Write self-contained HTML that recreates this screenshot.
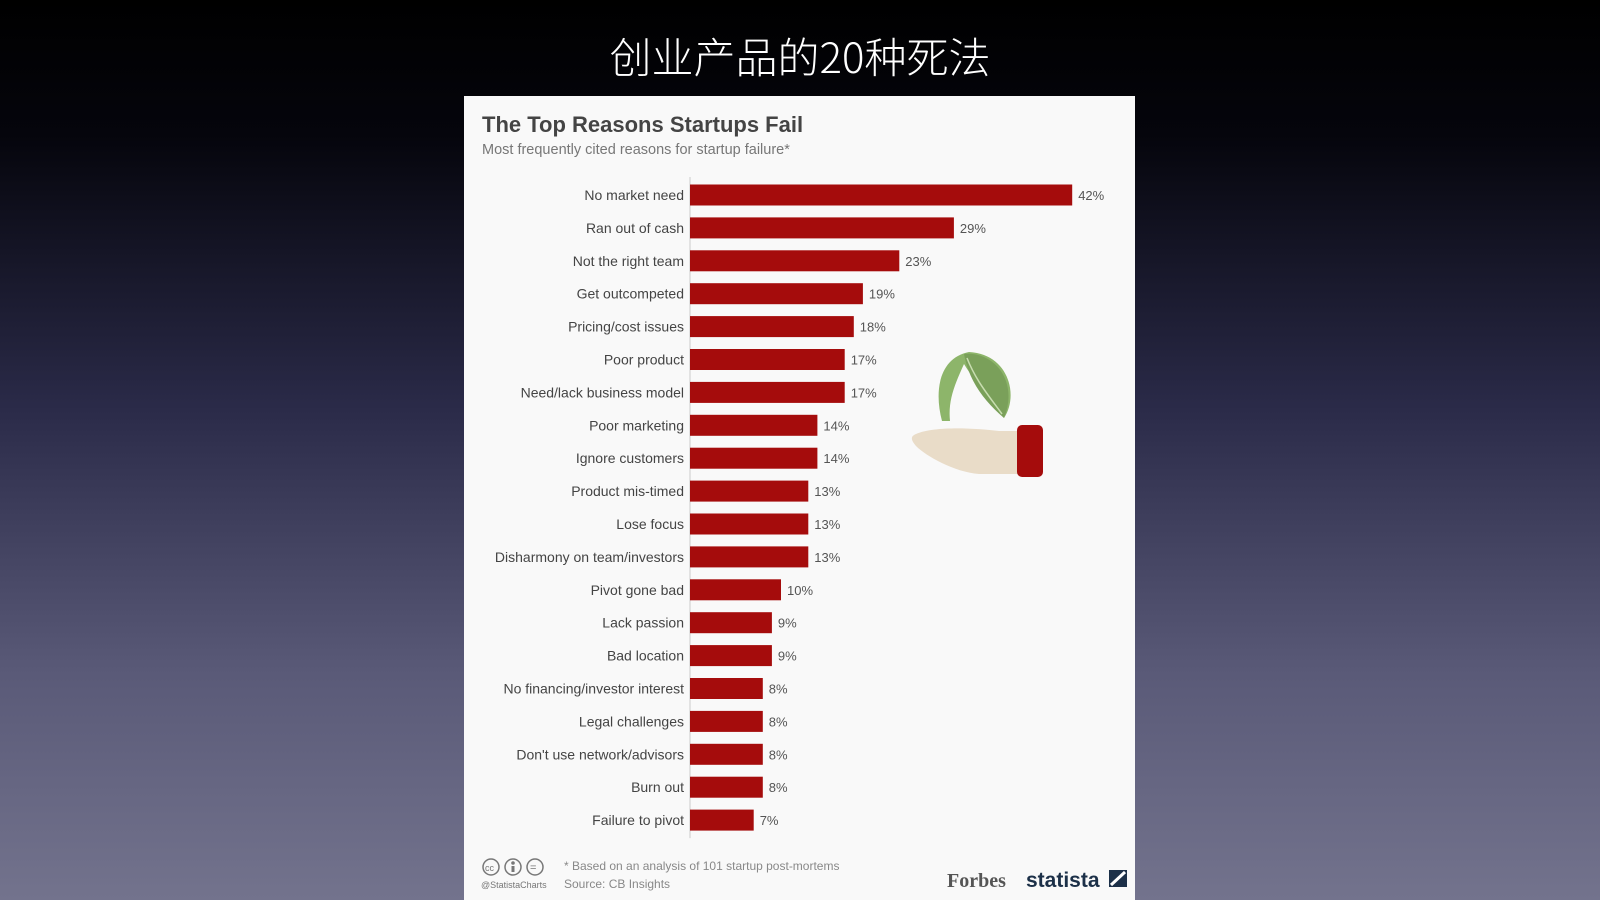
<!DOCTYPE html>
<html style="background:#73738d"><head><meta charset="utf-8"><style>
html,body{margin:0;width:1600px;height:900px;overflow:hidden}
body{background:linear-gradient(#000 0%,#05050c 15%,#2a2a48 45%,#5a5a78 75%,#73738d 100%);font-family:"Liberation Sans","Noto Sans CJK SC",sans-serif;position:relative}
#h{position:absolute;top:25px;width:1600px;text-align:center;color:#fff;font-size:42px;font-family:"Noto Sans CJK SC",sans-serif;font-weight:300}
#card{position:absolute;left:464px;top:96px;width:671px;height:804px;background:#f9f9f9}
</style></head><body>
<div id="h">创业产品的20种死法</div>
<div id="card">
<svg width="671" height="804" id="svg">
<text x="18" y="36" font-size="22" font-weight="bold" fill="#444">The Top Reasons Startups Fail</text>
<text x="18" y="58" font-size="14.5" fill="#777">Most frequently cited reasons for startup failure*</text>
<g id="bars"></g>
<g>
<path d="M478 325 C470 295 475 262 505 256 C545 258 555 300 540 322 C525 300 510 285 500 268 C490 290 484 305 486 325 Z" fill="#8db56a"/>
<path d="M500 258 C530 255 555 285 540 322 C520 305 505 285 500 258 Z" fill="#7aa05a"/>
<path d="M503 262 C512 285 525 300 538 318" stroke="#c8ddb0" stroke-width="1.5" fill="none"/>
<path d="M452 338 C470 330 510 332 535 335 L556 335 L556 378 L515 378 C490 376 462 360 452 350 C446 343 447 340 452 338 Z" fill="#e9dcc8"/>
<rect x="553" y="329" width="26" height="52" rx="5" fill="#a50c0c"/>
</g>
<g font-size="12" fill="#888">
<circle cx="27" cy="771" r="8" fill="none" stroke="#777" stroke-width="1.5"/><text x="21" y="775" font-size="9" fill="#777">cc</text>
<circle cx="49" cy="771" r="8" fill="none" stroke="#777" stroke-width="1.5"/><circle cx="49" cy="767" r="1.8" fill="#777"/><rect x="47.5" y="770" width="3" height="6" fill="#777"/>
<circle cx="71" cy="771" r="8" fill="none" stroke="#777" stroke-width="1.5"/><text x="66" y="775" font-size="11" fill="#777">=</text>
<text x="17" y="792" font-size="9" fill="#777">@StatistaCharts</text>
<text x="100" y="774">* Based on an analysis of 101 startup post-mortems</text>
<text x="100" y="792">Source: CB Insights</text>
<text x="483" y="791" font-family="Liberation Serif" font-size="20" font-weight="bold" fill="#555">Forbes</text>
<text x="562" y="791" font-size="21" font-weight="bold" fill="#1c3048">statista</text>
<path d="M645 774 h18 v17 h-18 Z" fill="#1c3048"/><path d="M647 789 L661 776" stroke="#fff" stroke-width="3"/>
</g>
</svg></div>
<script>
const categories=["No market need","Ran out of cash","Not the right team","Get outcompeted","Pricing/cost issues","Poor product","Need/lack business model","Poor marketing","Ignore customers","Product mis-timed","Lose focus","Disharmony on team/investors","Pivot gone bad","Lack passion","Bad location","No financing/investor interest","Legal challenges","Don't use network/advisors","Burn out","Failure to pivot"];
const values=[42,29,23,19,18,17,17,14,14,13,13,13,10,9,9,8,8,8,8,7];
const x0=226,pxPer=9.1,y0=99,step=32.9,bh=21;
const xs=v=>v*pxPer, ys=i=>y0+i*step;
const g=document.getElementById('bars'),NS='http://www.w3.org/2000/svg';
const ax=document.createElementNS(NS,'line');
ax.setAttribute('x1',x0);ax.setAttribute('x2',x0);ax.setAttribute('y1',ys(0)-18);ax.setAttribute('y2',ys(values.length-1)+18);ax.setAttribute('stroke','#ccc');


g.appendChild(ax);
categories.forEach((c,i)=>{
 const y=ys(i);
 const r=document.createElementNS(NS,'rect');
 r.setAttribute('x',x0);r.setAttribute('y',y-bh/2);r.setAttribute('width',xs(values[i]));r.setAttribute('height',bh);r.setAttribute('fill','#a50c0c');
 
 
 g.appendChild(r);
 const t=document.createElementNS(NS,'text');
 t.setAttribute('x',x0-6);t.setAttribute('y',y+5);t.setAttribute('text-anchor','end');t.setAttribute('font-size','14');t.setAttribute('fill','#444');t.textContent=c;
 
 
 g.appendChild(t);
 const v=document.createElementNS(NS,'text');
 v.setAttribute('x',x0+xs(values[i])+6);v.setAttribute('y',y+5);v.setAttribute('font-size','13');v.setAttribute('fill','#555');v.textContent=values[i]+'%';
 
 
 g.appendChild(v);
});
</script>
</body></html>
